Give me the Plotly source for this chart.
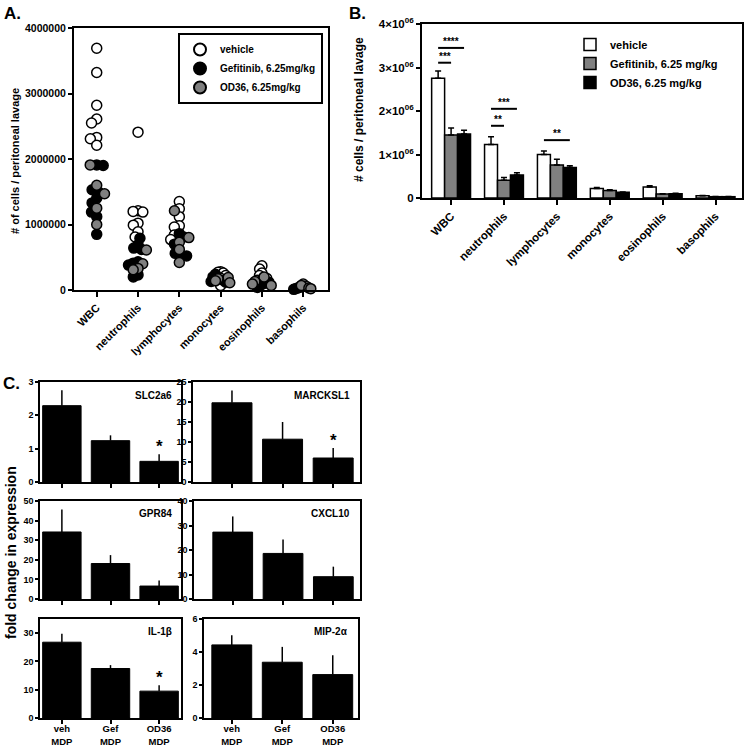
import numpy as np
import plotly.graph_objects as go

# ---------------- DATA ----------------
cell_types = ["WBC", "neutrophils", "lymphocytes", "monocytes", "eosinophils", "basophils"]
groups_A = ["vehicle", "Gefitinib, 6.25mg/kg", "OD36, 6.25mg/kg"]

# Panel A: individual mice (cells / peritoneal lavage)
vehicle_pts = [
    [3690000, 3320000, 2820000, 2610000, 2550000, 2330000, 2310000, 2210000],
    [2410000, 1210000, 1200000, 1190000, 1020000, 990000, 890000, 810000],
    [1350000, 1240000, 1120000, 980000, 960000, 840000, 770000],
    [280000, 270000, 260000, 220000, 180000, 70000],
    [370000, 320000, 260000, 220000, 180000, 150000, 60000],
    [90000, 60000, 50000, 20000],
]
gefitinib_pts = [
    [1910000, 1900000, 1530000, 1500000, 1400000, 1330000, 1190000, 1120000, 850000],
    [790000, 690000, 640000, 620000, 430000, 410000, 380000, 230000, 200000],
    [860000, 810000, 700000, 560000, 530000, 520000],
    [240000, 200000, 150000, 130000, 120000],
    [150000, 120000, 100000, 80000, 40000],
    [40000, 30000, 10000],
]
od36_pts = [
    [1910000, 1600000, 1470000, 1250000, 1000000],
    [610000, 400000, 330000, 310000],
    [1210000, 800000, 730000, 620000, 420000],
    [190000, 170000, 140000, 110000],
    [200000, 130000, 90000, 70000],
    [70000, 30000, 20000],
]

# Panel B: means and upper SEM
groups_B = ["vehicle", "Gefitinib, 6.25 mg/kg", "OD36, 6.25 mg/kg"]
mean_vehicle = [2750000, 1230000, 1000000, 220000, 250000, 50000]
mean_gefitinib = [1450000, 410000, 760000, 170000, 90000, 30000]
mean_od36 = [1470000, 530000, 700000, 130000, 100000, 30000]
sem_vehicle = [170000, 180000, 80000, 20000, 30000, 10000]
sem_gefitinib = [160000, 60000, 130000, 20000, 10000, 5000]
sem_od36 = [90000, 50000, 40000, 10000, 10000, 5000]
# significance: (category index, group a, group b, line level, label)
sig_B = [
    (0, 0, 2, 3450000, "****"),
    (0, 0, 1, 3110000, "***"),
    (1, 0, 2, 2050000, "***"),
    (1, 0, 1, 1660000, "**"),
    (2, 0, 2, 1330000, "**"),
]

# Panel C: fold change in expression
treatments_C = ["veh<br>MDP", "Gef<br>MDP", "OD36<br>MDP"]
genes = ["SLC2a6", "MARCKSL1", "GPR84", "CXCL10", "IL-1β", "MIP-2α"]
fold_SLC2a6 = [2.29, 1.24, 0.62]
err_SLC2a6 = [0.46, 0.16, 0.21]
fold_MARCKSL1 = [19.8, 10.7, 6.0]
err_MARCKSL1 = [3.1, 4.3, 2.5]
fold_GPR84 = [34.2, 18.1, 6.6]
err_GPR84 = [11.4, 4.3, 2.8]
fold_CXCL10 = [27.3, 18.6, 9.1]
err_CXCL10 = [6.4, 5.7, 4.1]
fold_IL1b = [26.8, 17.5, 9.5]
err_IL1b = [3.0, 1.2, 2.1]
fold_MIP2a = [4.43, 3.38, 2.63]
err_MIP2a = [0.58, 0.93, 1.18]
yticks_C = [[0, 1, 2, 3], [0, 5, 10, 15, 20, 25], [0, 10, 20, 30, 40, 50],
            [0, 10, 20, 30, 40], [0, 10, 20, 30], [0, 2, 4, 6]]
ymax_C = [3, 25, 50, 40, 35, 6]
stars_C = [["", "", "*"], ["", "", "*"], ["", "", ""], ["", "", ""], ["", "", "*"], ["", "", ""]]

# ---------------- LAYOUT HELPERS ----------------
W, H = 745, 746
FONT = "Arial, Liberation Sans, sans-serif"


def px(x):
    return x / W


def py(y):
    return 1 - y / H


def bold(size):
    return dict(family=FONT, size=size, color="black", weight="bold")


def swarm(vals, ypx, diam, maxoff):
    """Beeswarm horizontal offsets (pixels) computed from values."""
    y = np.asarray(vals, dtype=float) * ypx
    order = np.argsort(-y)
    xs = np.zeros(len(y))
    placed = []
    for i in order:
        intervals = []
        for j in placed:
            dy = abs(y[i] - y[j])
            if dy < diam:
                h = np.sqrt(diam ** 2 - dy ** 2)
                intervals.append((xs[j] - h, xs[j] + h))
        cands = [0.0] + [e for iv in intervals for e in iv]
        cands.sort(key=lambda c: (abs(c), c))
        for c in cands:
            if all(not (a + 1e-6 < c < b - 1e-6) for a, b in intervals):
                xs[i] = c
                break
        placed.append(i)
    m = np.abs(xs).max()
    if m > maxoff:
        xs = xs * maxoff / m
    return xs


fig = go.Figure()

# ---------------- PANEL A ----------------
A_dom_x = [px(74), px(328)]
A_dom_y = [py(290), py(28)]
A_xrange = [-0.55, 5.6]
A_xpx = (328 - 74) / (A_xrange[1] - A_xrange[0])
A_ypx = (290 - 28) / 4000000.0

all_sets = [vehicle_pts, gefitinib_pts, od36_pts]
xs_groups = [[], [], []]
ys_groups = [[], [], []]
for c in range(len(cell_types)):
    vals = []
    idx = []
    for g in range(3):
        for v in all_sets[g][c]:
            vals.append(v)
            idx.append(g)
    offs = swarm(vals, A_ypx, 6.5, 9.5)
    for v, g, o in zip(vals, idx, offs):
        xs_groups[g].append(c + o / A_xpx)
        ys_groups[g].append(v)

fillsA = ["white", "black", "#808080"]
for g in range(3):
    fig.add_trace(go.Scatter(
        x=xs_groups[g], y=ys_groups[g], mode="markers", name=groups_A[g],
        marker=dict(size=10, color=fillsA[g], line=dict(color="black", width=1.5)),
        xaxis="x", yaxis="y", legend="legend", cliponaxis=False,
    ))

# ---------------- PANEL B ----------------
meansB = [mean_vehicle, mean_gefitinib, mean_od36]
semsB = [sem_vehicle, sem_gefitinib, sem_od36]
fillsB = ["white", "#808080", "black"]
bw = 0.245
for g in range(3):
    fig.add_trace(go.Bar(
        x=list(range(len(cell_types))), y=meansB[g], name=groups_B[g],
        width=bw, offset=(g - 1.5) * bw,
        marker=dict(color=fillsB[g], line=dict(color="black", width=1.5)),
        error_y=dict(type="data", symmetric=False, array=semsB[g],
                     arrayminus=[0] * len(semsB[g]), color="black", thickness=1.5, width=3),
        xaxis="x2", yaxis="y2", legend="legend2",
    ))

shapes = []
annotations = []
for cat, ga, gb, lvl, lab in sig_B:
    x0 = cat + (ga - 1) * bw
    x1 = cat + (gb - 1) * bw
    shapes.append(dict(type="line", xref="x2", yref="y2", x0=x0, x1=x1, y0=lvl, y1=lvl,
                       line=dict(color="black", width=2)))
    annotations.append(dict(xref="x2", yref="y2", x=(x0 + x1) / 2, y=lvl, text=lab,
                            showarrow=False, xanchor="center", yanchor="bottom",
                            font=bold(10), yshift=-1))

# ---------------- PANEL C ----------------
foldsC = [fold_SLC2a6, fold_MARCKSL1, fold_GPR84, fold_CXCL10, fold_IL1b, fold_MIP2a]
errsC = [err_SLC2a6, err_MARCKSL1, err_GPR84, err_CXCL10, err_IL1b, err_MIP2a]
C_boxes = [  # (x0, x1, ytop, ybottom) in pixels
    (40, 181, 382, 482), (193, 360, 382, 482),
    (40, 181, 501, 599), (194, 360, 501, 599),
    (40, 181, 619, 718), (204, 358, 619, 718),
]
C_xranges = [[-0.45, 2.45], [-0.77, 2.53], [-0.45, 2.45], [-0.77, 2.53], [-0.45, 2.45], [-0.55, 2.5]]

for k in range(6):
    n = k + 3
    fig.add_trace(go.Bar(
        x=[0, 1, 2], y=foldsC[k], width=0.79, showlegend=False,
        marker=dict(color="black", line=dict(color="black", width=1)),
        error_y=dict(type="data", symmetric=False, array=errsC[k], arrayminus=[0, 0, 0],
                     color="black", thickness=1.5, width=0),
        xaxis=f"x{n}", yaxis=f"y{n}",
    ))
    annotations.append(dict(xref=f"x{n} domain", yref=f"y{n} domain", x=0.95, y=0.87,
                            text=genes[k], showarrow=False, xanchor="right", yanchor="middle",
                            font=bold(10)))
    for i in range(3):
        if stars_C[k][i]:
            annotations.append(dict(xref=f"x{n}", yref=f"y{n}", x=i, y=foldsC[k][i] + errsC[k][i],
                                    text=stars_C[k][i], showarrow=False, xanchor="center",
                                    yanchor="bottom", font=bold(17), yshift=-4))

# ---------------- AXES ----------------
axis_common = dict(showline=True, linecolor="black", linewidth=2, mirror=True,
                   ticks="outside", tickwidth=2, tickcolor="black", showgrid=False,
                   zeroline=False, fixedrange=True)

layout = dict(
    width=W, height=H, margin=dict(l=0, r=0, t=0, b=0, autoexpand=False),
    paper_bgcolor="white", plot_bgcolor="white", barmode="overlay",
    font=dict(family=FONT, color="black"),
    xaxis=dict(axis_common, domain=A_dom_x, anchor="y", range=A_xrange,
               tickvals=list(range(6)), ticktext=cell_types, tickangle=-45,
               tickfont=bold(11), ticklen=5),
    yaxis=dict(axis_common, domain=A_dom_y, anchor="x", range=[0, 4000000],
               tickvals=[0, 1000000, 2000000, 3000000, 4000000],
               ticktext=["0", "1000000", "2000000", "3000000", "4000000"],
               tickfont=bold(10.5), ticklen=4),
    xaxis2=dict(axis_common, domain=[px(422), px(742)], anchor="y2", range=[-0.55, 5.5],
                tickvals=list(range(6)), ticktext=cell_types, tickangle=-45,
                tickfont=bold(11.5), ticklen=5),
    yaxis2=dict(axis_common, domain=[py(198), py(24)], anchor="x2", range=[0, 4000000],
                tickvals=[0, 1000000, 2000000, 3000000, 4000000],
                ticktext=["0", "1×10<sup>06</sup>", "2×10<sup>06</sup>",
                          "3×10<sup>06</sup>", "4×10<sup>06</sup>"],
                tickfont=bold(11.5), ticklen=4),
    legend=dict(x=px(178), y=py(33), xanchor="left", yanchor="top", bgcolor="white",
                bordercolor="black", borderwidth=2, font=bold(10), itemsizing="constant",
                tracegroupgap=0, itemwidth=30),
    legend2=dict(x=px(570), y=py(30), xanchor="left", yanchor="top", bgcolor="rgba(0,0,0,0)",
                 borderwidth=0, font=bold(11), tracegroupgap=0, itemwidth=30),
)

for k in range(6):
    n = k + 3
    x0, x1, yt, yb = C_boxes[k]
    bottom = k >= 4
    xa = dict(axis_common, domain=[px(x0), px(x1)], anchor=f"y{n}",
              range=C_xranges[k], tickvals=[0, 1, 2], showticklabels=bottom,
              tickfont=bold(9.5), ticklen=4, tickwidth=1.5, linewidth=1.5)
    if bottom:
        xa["ticktext"] = treatments_C
        xa["ticklabelstandoff"] = -3
    layout[f"xaxis{n}"] = xa
    layout[f"yaxis{n}"] = dict(axis_common, domain=[py(yb), py(yt)], anchor=f"x{n}",
                               range=[0, ymax_C[k]], tickvals=yticks_C[k],
                               tickfont=bold(9), ticklen=3, tickwidth=1.5, linewidth=1.5)

# axis titles and panel labels
annotations += [
    dict(xref="paper", yref="paper", x=px(15), y=py(161), text="# of cells / peritoneal lavage",
         textangle=-90, showarrow=False, xanchor="center", yanchor="middle", font=bold(11)),
    dict(xref="paper", yref="paper", x=px(359), y=py(110), text="# cells / peritoneal lavage",
         textangle=-90, showarrow=False, xanchor="center", yanchor="middle", font=bold(12)),
    dict(xref="paper", yref="paper", x=px(11), y=py(553), text="fold change in expression",
         textangle=-90, showarrow=False, xanchor="center", yanchor="middle", font=bold(14)),
    dict(xref="paper", yref="paper", x=px(2), y=py(2), text="A.", showarrow=False,
         xanchor="left", yanchor="top", font=bold(17)),
    dict(xref="paper", yref="paper", x=px(347), y=py(2), text="B.", showarrow=False,
         xanchor="left", yanchor="top", font=bold(17)),
    dict(xref="paper", yref="paper", x=px(1), y=py(372), text="C.", showarrow=False,
         xanchor="left", yanchor="top", font=bold(17)),
]
layout["annotations"] = annotations
layout["shapes"] = shapes

fig.update_layout(layout)
fig.write_html("out.html", config={"displayModeBar": False},
               post_script="document.body.style.margin='0';document.body.style.overflow='hidden';")
